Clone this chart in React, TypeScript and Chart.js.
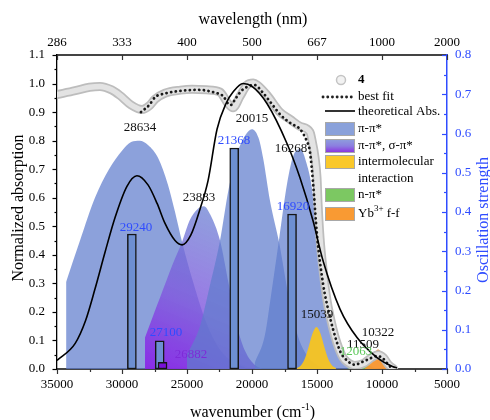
import React, { useEffect, useRef } from 'react';
import { Chart, registerables } from 'chart.js';
Chart.register(...registerables);

const FONT = "'Liberation Serif', 'Times New Roman', serif";

// axis ticks
const wavenumberTicks = [35000, 30000, 25000, 20000, 15000, 10000, 5000];
const wavelengthLabels = ['286', '333', '400', '500', '667', '1000', '2000'];

// experimental spectrum "4"
const expWn = [35000, 33600, 32500, 31700, 30800, 30150, 29300, 28460, 27900, 27460, 26700, 25500, 24600, 23500, 22460, 21850, 21460, 20920, 20380, 19900, 19600, 18850, 17850, 17080, 16300, 15540, 15380, 15150, 15000, 14920, 14770, 14540, 14230, 13770, 13460, 13000, 12690, 12100, 11400, 10800, 10300, 9900, 9500, 9100];
const expAbs = [0.961, 0.975, 0.987, 0.99, 0.978, 0.958, 0.925, 0.909, 0.922, 0.945, 0.966, 0.977, 0.98, 0.978, 0.97, 0.93, 0.915, 0.955, 0.995, 1.002, 0.995, 0.96, 0.9, 0.875, 0.85, 0.83, 0.8, 0.74, 0.67, 0.58, 0.46, 0.35, 0.24, 0.14, 0.09, 0.04, 0.025, 0.012, 0.02, 0.04, 0.05, 0.04, 0.015, 0.0];

// best fit
const fitWn = [28540, 27900, 27460, 26700, 25920, 24150, 22850, 22200, 21850, 21600, 21300, 20800, 20300, 19800, 19200, 18500, 17800, 17000, 16300, 15800, 15540, 15300, 15000, 14540, 14100, 13770, 13200, 12690, 12100, 11500, 11000, 10400, 10000, 9600, 9300];
const fitAbs = [0.9, 0.925, 0.952, 0.965, 0.972, 0.978, 0.968, 0.955, 0.93, 0.925, 0.945, 0.975, 0.99, 0.995, 0.97, 0.93, 0.89, 0.86, 0.84, 0.8, 0.76, 0.65, 0.47, 0.3, 0.2, 0.14, 0.06, 0.03, 0.015, 0.025, 0.035, 0.045, 0.04, 0.02, 0.005];

// theoretical absorption
const theoWn = [35000, 33600, 32800, 32080, 31300, 30540, 29620, 28850, 28000, 27300, 26690, 25920, 25380, 24700, 24000, 23380, 22690, 22000, 21460, 20690, 20000, 18850, 17310, 16310, 15310, 14540, 13230, 11920, 10380, 9150, 8850];
const theoAbs = [0.03, 0.09, 0.17, 0.28, 0.41, 0.53, 0.64, 0.677, 0.645, 0.58, 0.51, 0.45, 0.435, 0.47, 0.56, 0.66, 0.84, 0.93, 0.97, 1.0, 0.99, 0.93, 0.79, 0.67, 0.52, 0.38, 0.21, 0.11, 0.04, 0.008, 0.004];

// pi-pi* bands
const pp1Wn = [34300, 33230, 32080, 31000, 30000, 29300, 28634, 28000, 27230, 26460, 25920, 25380, 24500, 23500, 22500, 21500, 20500];
const pp1Val = [0.305, 0.45, 0.6, 0.7, 0.765, 0.795, 0.8, 0.785, 0.74, 0.645, 0.55, 0.445, 0.3, 0.16, 0.07, 0.025, 0.005];
const pp3Wn = [25000, 24000, 23200, 22460, 21800, 21100, 20500, 20015, 19500, 19150, 18620, 17900, 17200, 16500, 15800, 15000, 14300];
const pp3Val = [0.05, 0.15, 0.3, 0.45, 0.63, 0.76, 0.82, 0.84, 0.81, 0.74, 0.59, 0.44, 0.26, 0.12, 0.05, 0.015, 0.0];
const pp4Wn = [19800, 19000, 18500, 17900, 17300, 16800, 16268, 15800, 15380, 15000, 14600, 14230, 13800, 13460, 13000, 12500, 12000];
const pp4Val = [0.02, 0.12, 0.27, 0.46, 0.65, 0.75, 0.77, 0.72, 0.63, 0.46, 0.33, 0.23, 0.13, 0.08, 0.03, 0.01, 0.0];
// pi-pi*, sigma-pi* band
const psWn = [28230, 27500, 27080, 26080, 25380, 24800, 24200, 23700, 23200, 22460, 21800, 21150, 20500, 19800, 19200];
const psVal = [0.11, 0.2, 0.25, 0.37, 0.445, 0.52, 0.56, 0.57, 0.54, 0.45, 0.3, 0.15, 0.06, 0.015, 0.0];
// intermolecular interaction
const imWn = [16540, 16240, 15940, 15640, 15340, 15039, 14740, 14440, 14140, 13840, 13540];
const imVal = [0.003, 0.012, 0.036, 0.078, 0.125, 0.147, 0.125, 0.078, 0.036, 0.012, 0.003];
// n-pi*
const npWn = [12700, 12300, 11900, 11509, 11100, 10700, 10300];
const npVal = [0.0, 0.008, 0.018, 0.022, 0.015, 0.006, 0.0];
// Yb3+ f-f
const ybWn = [11300, 11000, 10700, 10500, 10322, 10100, 9900, 9600, 9300];
const ybVal = [0.003, 0.015, 0.04, 0.06, 0.068, 0.062, 0.045, 0.02, 0.004];

// oscillator strengths
const barWn = [29240, 27100, 26882, 21368, 16920, 12063];
const barF = [0.344, 0.072, 0.017, 0.563, 0.395, 0.018];
const barKind = ['pp', 'pp', 'ps', 'pp', 'pp', 'np'];

// peak annotations (text, anchor wavenumber, anchor absorption, colour kind)
const peakText = ['28634', '23883', '20015', '16268', '29240', '21368', '16920', '27100', '26882', '15039', '11509', '12063', '10322'];
const peakWn = [28615, 24077, 20000, 17000, 28923, 21385, 16846, 26615, 24692, 15000, 11462, 12000, 10308];
const peakAbs = [0.846, 0.6, 0.877, 0.772, 0.495, 0.8, 0.568, 0.126, 0.049, 0.189, 0.084, 0.06, 0.126];
const peakKind = ['k', 'k', 'k', 'k', 'b', 'b', 'b', 'b', 'p', 'k', 'k', 'g', 'k'];

const LABEL_COLORS: Record<string, string> = { k: '#111111', b: '#2f4cff', p: '#7e2bd8', g: '#5cc85a' };
const BAR_COLORS: Record<string, string> = { pp: '#6d8fd2', ps: '#7a10d8', np: '#6fc557' };
const BLUE_FILL = 'rgba(95,125,205,0.72)';
const AXIS_BLUE = '#2f4cff';

const xy = (xs: number[], ys: number[]) => xs.map((x, i) => ({ x, y: ys[i] }));

function gradientFill(chart: any) {
  const { ctx, chartArea, scales } = chart;
  if (!chartArea) return BLUE_FILL;
  const g = ctx.createLinearGradient(
    scales.x.getPixelForValue(28300), scales.y.getPixelForValue(0),
    scales.x.getPixelForValue(23000), scales.y.getPixelForValue(0.58),
  );
  g.addColorStop(0, 'rgba(138,30,232,0.9)');
  g.addColorStop(0.45, 'rgba(128,88,222,0.8)');
  g.addColorStop(1, 'rgba(100,126,208,0.72)');
  return g;
}

const overlayPlugin = {
  id: 'overlay',
  afterDatasetsDraw(chart: any) {
    const { ctx, scales } = chart;
    ctx.save();
    ctx.font = `13px ${FONT}`;
    ctx.textAlign = 'center';
    ctx.textBaseline = 'middle';
    peakText.forEach((t, i) => {
      ctx.fillStyle = LABEL_COLORS[peakKind[i]];
      ctx.fillText(t, scales.x.getPixelForValue(peakWn[i]), scales.y.getPixelForValue(peakAbs[i]));
    });
    ctx.restore();
  },
  afterDraw(chart: any) {
    const { ctx, scales, chartArea: ca } = chart;
    ctx.save();
    const drawTicks = (scale: any, isX: boolean, edge: number, dir: number, color: string, minor: boolean, majLen: number, minLen: number) => {
      const vals = scale.ticks.map((t: any) => t.value);
      const items: [number, number][] = [];
      vals.forEach((v: number, i: number) => {
        items.push([v, majLen]);
        if (minor && i < vals.length - 1) items.push([(v + vals[i + 1]) / 2, minLen]);
      });
      ctx.strokeStyle = color;
      ctx.lineWidth = 1.2;
      items.forEach(([v, len]) => {
        const p = Math.round(scale.getPixelForValue(v)) + 0.5;
        ctx.beginPath();
        if (isX) { ctx.moveTo(p, edge); ctx.lineTo(p, edge + dir * len); }
        else { ctx.moveTo(edge, p); ctx.lineTo(edge + dir * len, p); }
        ctx.stroke();
      });
    };
    drawTicks(scales.y, false, ca.left, -1, '#000', true, 4.5, 2.5);
    drawTicks(scales.y2, false, ca.right, -1, AXIS_BLUE, true, 5, 3);
    drawTicks(scales.x, true, ca.bottom, 1, '#333', true, 5, 3);
    drawTicks(scales.xTop, true, ca.top, 1, '#333', false, 5, 3);

    // axis titles
    ctx.fillStyle = '#000';
    ctx.textBaseline = 'middle';
    ctx.textAlign = 'center';
    ctx.font = `16px ${FONT}`;
    ctx.fillText('wavelength (nm)', 253, 20);
    ctx.save();
    ctx.translate(19, 208);
    ctx.rotate(-Math.PI / 2);
    ctx.fillText('Normalized absorption', 0, 0);
    ctx.restore();
    ctx.save();
    ctx.fillStyle = AXIS_BLUE;
    ctx.translate(484, 220);
    ctx.rotate(-Math.PI / 2);
    ctx.fillText('Oscillation strength', 0, 0);
    ctx.restore();
    // bottom title with superscript
    const t1 = 'wavenumber (cm', t2 = '-1', t3 = ')';
    ctx.font = `16px ${FONT}`;
    const w1 = ctx.measureText(t1).width, w3 = ctx.measureText(t3).width;
    ctx.font = `10px ${FONT}`;
    const w2 = ctx.measureText(t2).width;
    const sx = 252.5 - (w1 + w2 + w3) / 2;
    ctx.textAlign = 'left';
    ctx.font = `16px ${FONT}`;
    ctx.fillText(t1, sx, 413);
    ctx.font = `10px ${FONT}`;
    ctx.fillText(t2, sx + w1, 407);
    ctx.font = `16px ${FONT}`;
    ctx.fillText(t3, sx + w1 + w2, 413);

    // legend
    const lx = 325, tx = 358;
    ctx.beginPath();
    ctx.arc(341, 80, 4.5, 0, Math.PI * 2);
    ctx.fillStyle = '#f2f2f2';
    ctx.fill();
    ctx.strokeStyle = '#c4c4c4';
    ctx.lineWidth = 1.5;
    ctx.stroke();
    ctx.fillStyle = '#000';
    ctx.font = `bold 13px ${FONT}`;
    ctx.fillText('4', tx, 80);
    ctx.font = `13px ${FONT}`;
    ctx.save();
    ctx.setLineDash([0.1, 4.6]);
    ctx.lineCap = 'round';
    ctx.lineWidth = 2.8;
    ctx.strokeStyle = '#222';
    ctx.beginPath();
    ctx.moveTo(323, 97);
    ctx.lineTo(355, 97);
    ctx.stroke();
    ctx.restore();
    ctx.fillText('best fit', tx, 97);
    ctx.strokeStyle = '#000';
    ctx.lineWidth = 1.6;
    ctx.beginPath();
    ctx.moveTo(lx, 111);
    ctx.lineTo(355, 111);
    ctx.stroke();
    ctx.fillText('theoretical Abs.', tx, 112);
    const box = (y: number, fill: any) => {
      ctx.fillStyle = fill;
      ctx.fillRect(lx, y, 30, 14);
      ctx.strokeStyle = '#a8a8a8';
      ctx.lineWidth = 1;
      ctx.strokeRect(lx + 0.5, y + 0.5, 29, 13);
    };
    box(122, '#8aa1da');
    const lg = ctx.createLinearGradient(0, 139, 0, 153);
    lg.addColorStop(0, '#8ea0dc');
    lg.addColorStop(0.5, '#8c7ee0');
    lg.addColorStop(1, '#8a2ae0');
    box(139, lg);
    box(155, '#fac82a');
    box(188, '#7cc862');
    box(207, '#f99a33');
    ctx.fillStyle = '#000';
    ctx.fillText('\u03c0-\u03c0*', tx, 129);
    ctx.fillText('\u03c0-\u03c0*, \u03c3-\u03c0*', tx, 146);
    ctx.fillText('intermolecular', tx, 162);
    ctx.fillText('interaction', tx, 179);
    ctx.fillText('n-\u03c0*', tx, 195);
    const wYb = ctx.measureText('Yb').width;
    ctx.fillText('Yb', tx, 214);
    ctx.font = `9px ${FONT}`;
    ctx.fillText('3+', tx + wYb, 209);
    const wSup = ctx.measureText('3+').width;
    ctx.font = `13px ${FONT}`;
    ctx.fillText(' f-f', tx + wYb + wSup, 214);
    ctx.restore();
  },
};

export default function App() {
  const ref = useRef<HTMLCanvasElement>(null);
  useEffect(() => {
    if (!ref.current) return;
    const lineBase = { type: 'line', pointRadius: 0, cubicInterpolationMode: 'monotone', xAxisID: 'x', yAxisID: 'y' };
    const fillBase = { ...lineBase, fill: 'origin', borderWidth: 0, borderColor: 'rgba(0,0,0,0)' };
    const barBase = { type: 'bar', xAxisID: 'x', yAxisID: 'y2', barThickness: 9, borderWidth: 1.5, borderColor: '#151515', borderSkipped: false, grouped: false, order: 5 };
    const datasets: any[] = [
      { ...fillBase, data: xy(pp1Wn, pp1Val), backgroundColor: BLUE_FILL, order: 20 },
      { ...fillBase, data: xy(psWn, psVal), backgroundColor: (c: any) => gradientFill(c.chart), order: 19 },
      { ...fillBase, data: xy(pp3Wn, pp3Val), backgroundColor: BLUE_FILL, order: 18 },
      { ...fillBase, data: xy(pp4Wn, pp4Val), backgroundColor: BLUE_FILL, order: 17 },
      { ...fillBase, data: xy(imWn, imVal), backgroundColor: 'rgba(246,196,34,0.96)', order: 16 },
      { ...fillBase, data: xy(npWn, npVal), backgroundColor: 'rgba(118,198,92,0.95)', order: 15 },
      { ...fillBase, data: xy(ybWn, ybVal), backgroundColor: 'rgba(248,150,48,0.96)', order: 14 },
      ...barWn.map((w, i) => ({ ...barBase, data: [{ x: w, y: barF[i] }], backgroundColor: BAR_COLORS[barKind[i]], order: barKind[i] === 'pp' ? 6 : 5 })),
      { ...lineBase, data: xy(expWn, expAbs), borderColor: '#bdbdbd', borderWidth: 9, fill: false, order: 4, borderCapStyle: 'round' },
      { ...lineBase, data: xy(expWn, expAbs), borderColor: '#e3e3e3', borderWidth: 5.5, fill: false, order: 3, borderCapStyle: 'round' },
      { ...lineBase, data: xy(fitWn, fitAbs), borderColor: '#1a1a1a', borderWidth: 2.8, borderDash: [0.1, 4.6], borderCapStyle: 'round', fill: false, order: 2 },
      { ...lineBase, data: xy(theoWn, theoAbs), borderColor: '#000', borderWidth: 1.6, fill: false, order: 1 },
    ];
    const tickFont = { family: FONT, size: 13 };
    const chart = new Chart(ref.current, {
      type: 'line',
      data: { datasets },
      options: {
        responsive: false,
        animation: false,
        devicePixelRatio: 1,
        events: [],
        layout: { padding: 0 },
        plugins: { legend: { display: false }, tooltip: { enabled: false } },
        scales: {
          x: {
            type: 'linear', position: 'bottom', min: 5000, max: 35000, reverse: true, offset: false,
            ticks: { stepSize: 5000, callback: (v: any) => String(v), font: tickFont, color: '#000', padding: 8, maxRotation: 0, autoSkip: false },
            grid: { display: false, drawTicks: false, offset: false },
            border: { display: true, color: '#444', width: 2 },
            afterFit: (s: any) => { s.height = 51; },
          },
          xTop: {
            type: 'linear', position: 'top', min: 5000, max: 35000, reverse: true, offset: false,
            ticks: {
              stepSize: 5000, font: tickFont, color: '#000', padding: 5, maxRotation: 0, autoSkip: false,
              callback: (v: any) => { const i = wavenumberTicks.indexOf(Number(v)); return i >= 0 ? wavelengthLabels[i] : ''; },
            },
            grid: { display: false, drawTicks: false },
            border: { display: true, color: '#444', width: 2 },
            afterFit: (s: any) => { s.height = 55; },
          },
          y: {
            type: 'linear', position: 'left', min: 0, max: 1.1,
            ticks: { stepSize: 0.1, callback: (v: any) => Number(v).toFixed(1), font: tickFont, color: '#000', padding: 12 },
            grid: { display: false, drawTicks: false },
            border: { display: true, color: '#000', width: 1.3 },
            afterFit: (s: any) => { s.width = 57; },
          },
          y2: {
            type: 'linear', position: 'right', min: 0, max: 0.8,
            ticks: { stepSize: 0.1, callback: (v: any) => Number(v).toFixed(1), font: tickFont, color: AXIS_BLUE, padding: 8 },
            grid: { display: false, drawTicks: false },
            border: { display: true, color: AXIS_BLUE, width: 1.5 },
            afterFit: (s: any) => { s.width = 43; },
          },
        },
      } as any,
      plugins: [overlayPlugin],
    } as any);
    return () => chart.destroy();
  }, []);
  return (
    <div style={{ position: 'absolute', left: 0, top: 0, width: 490, height: 420 }}>
      <canvas ref={ref} width={490} height={420} style={{ display: 'block' }} />
    </div>
  );
}
